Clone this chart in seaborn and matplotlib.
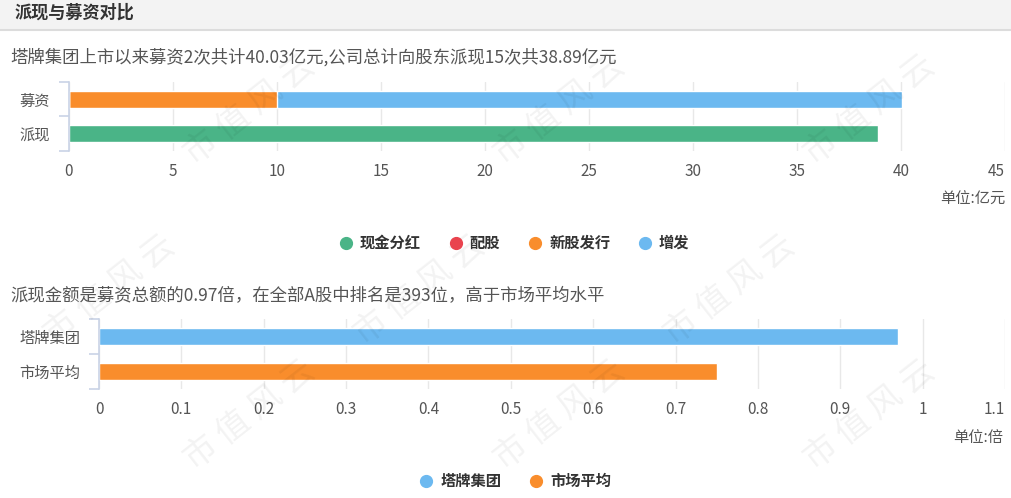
import numpy as np
import pandas as pd
import matplotlib
matplotlib.use('Agg')
import matplotlib.pyplot as plt
from matplotlib.lines import Line2D
from matplotlib.patches import Rectangle
import seaborn as sns

sns.set_style('white')
plt.rcParams['font.family'] = ['Noto Sans CJK SC', 'DejaVu Sans']

# ---- data ----
top_cats = ['募资', '派现']
cash_div = [0, 38.89]      # 现金分红
allotment = [0, 0]         # 配股
ipo = [10.0, 0]            # 新股发行
add_issue = [30.03, 0]     # 增发
top_ticks = [0, 5, 10, 15, 20, 25, 30, 35, 40, 45]
top_legend = ['现金分红', '配股', '新股发行', '增发']

bot_cats = ['塔牌集团', '市场平均']
bot_ratio = [0.97, 0.75]
bot_ticks = [0, 0.1, 0.2, 0.3, 0.4, 0.5, 0.6, 0.7, 0.8, 0.9, 1, 1.1]
bot_ticklabels = ['0', '0.1', '0.2', '0.3', '0.4', '0.5', '0.6', '0.7', '0.8', '0.9', '1', '1.1']

GREEN, RED, ORANGE, BLUE = '#4ab487', '#e9434e', '#f98d2c', '#6cb9f0'
TXT = '#555555'
BRACKET = '#c9d3e6'

W, H = 1012, 498
fig = plt.figure(figsize=(W / 100, H / 100), dpi=100)


def px(x0, y0, x1, y1):
    return [x0 / W, 1 - y1 / H, (x1 - x0) / W, (y1 - y0) / H]


# header band
fig.patches.append(Rectangle((0, 1 - 29 / H), 1, 29 / H, transform=fig.transFigure,
                             facecolor='#f3f3f3', edgecolor='none', zorder=0))
fig.add_artist(Line2D([0, 1], [1 - 30 / H] * 2, transform=fig.transFigure, color='#dcdcdc', lw=1.5))
fig.text(15 / W, 1 - 13 / H, '派现与募资对比', fontsize=12.3, fontweight='bold', color='#333333', va='center')

# watermark
for cx, cy in [(250, 110), (560, 110), (870, 110), (110, 290), (420, 290), (730, 290),
               (250, 415), (560, 415), (870, 415)]:
    fig.text(cx / W, 1 - cy / H, '市 值 风 云', fontsize=24, rotation=38, color='#000000',
             alpha=0.05, ha='center', va='center')

fig.text(10 / W, 1 - 57 / H, '塔牌集团上市以来募资2次共计40.03亿元,公司总计向股东派现15次共38.89亿元',
         fontsize=12.5, color=TXT, va='center')
fig.text(10 / W, 1 - 296 / H, '派现金额是募资总额的0.97倍，在全部A股中排名是393位，高于市场平均水平',
         fontsize=12.5, color=TXT, va='center')


def style_axes(ax):
    sns.despine(ax=ax, top=True, right=True, bottom=True, left=False)
    ax.spines['left'].set_color(BRACKET)
    ax.spines['left'].set_linewidth(1.2)
    ax.set_ylim(1.5, -0.5)
    ax.set_yticks([-0.5, 0.5, 1.5], minor=True)
    ax.tick_params(axis='y', which='minor', left=True, length=7, width=1.2, color=BRACKET)
    ax.tick_params(axis='y', which='major', length=0, pad=13.5, labelsize=11, labelcolor=TXT)
    ax.tick_params(axis='x', length=0, pad=8.5, labelsize=11, labelcolor=TXT)
    ax.grid(axis='x', color='#e8e8e8', lw=1)
    ax.set_axisbelow(True)
    ax.set_xlabel('')
    ax.set_ylabel('')
    # last tick label pulled inward like the original
    ax.get_xticklabels()[-1].set_horizontalalignment('right')


# ---- top chart ----
ax1 = fig.add_axes(px(69, 82, 1005, 151))
total = [a + b for a, b in zip(ipo, add_issue)]
sns.barplot(x=total, y=top_cats, color=BLUE, width=0.5, saturation=1,
            edgecolor='white', linewidth=1, ax=ax1)
sns.barplot(x=ipo, y=top_cats, color=ORANGE, width=0.5, saturation=1,
            edgecolor='white', linewidth=1, ax=ax1)
sns.barplot(x=allotment, y=top_cats, color=RED, width=0.5, saturation=1, ax=ax1)
sns.barplot(x=cash_div, y=top_cats, color=GREEN, width=0.5, saturation=1,
            edgecolor='white', linewidth=1, ax=ax1)
ax1.set_xlim(0, 45)
ax1.set_xticks(top_ticks)
style_axes(ax1)
fig.text(1005 / W, 1 - 199 / H, '单位:亿元', fontsize=11, color=TXT, ha='right', va='center')

handles = [Line2D([], [], marker='o', ls='', markersize=8.5, color=c) for c in [GREEN, RED, ORANGE, BLUE]]
leg = fig.legend(handles, top_legend, loc='center', bbox_to_anchor=(514 / W, 1 - 243 / H), ncol=4,
                 frameon=False, handletextpad=0.4, columnspacing=1.8, handlelength=1.0,
                 prop={'size': 11, 'weight': 'bold'})
for t in leg.get_texts():
    t.set_color('#333333')

# ---- bottom chart ----
ax2 = fig.add_axes(px(99, 319, 1005, 389))
sns.barplot(x=bot_ratio, y=bot_cats, hue=bot_cats, palette=[BLUE, ORANGE], legend=False,
            width=0.5, saturation=1, ax=ax2)
ax2.set_xlim(0, 1.1)
ax2.set_xticks(bot_ticks)
ax2.set_xticklabels(bot_ticklabels)
style_axes(ax2)
fig.text(1003 / W, 1 - 437 / H, '单位:倍', fontsize=11, color=TXT, ha='right', va='center')

handles2 = [Line2D([], [], marker='o', ls='', markersize=8.5, color=c) for c in [BLUE, ORANGE]]
leg2 = fig.legend(handles2, bot_cats, loc='center', bbox_to_anchor=(515 / W, 1 - 481 / H), ncol=2,
                  frameon=False, handletextpad=0.4, columnspacing=1.8, handlelength=1.0,
                  prop={'size': 11, 'weight': 'bold'})
for t in leg2.get_texts():
    t.set_color('#333333')

fig.savefig('out.png', dpi=100)
